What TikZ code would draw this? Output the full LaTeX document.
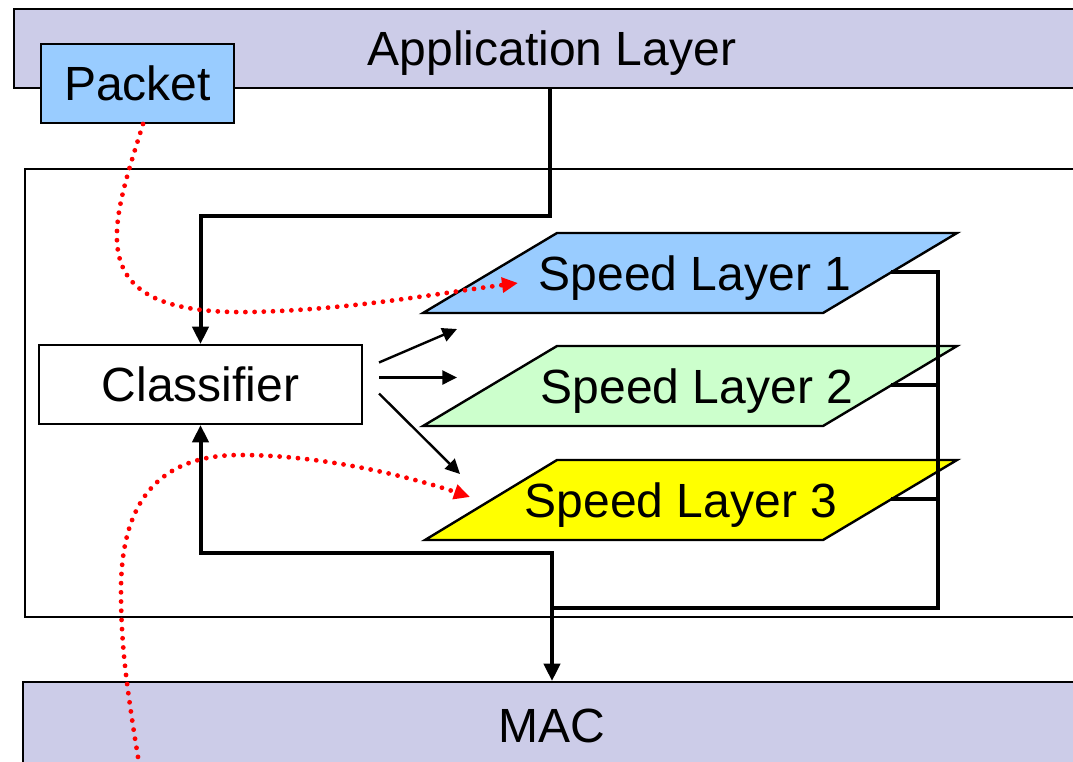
\documentclass[tikz,border=0pt]{standalone}
\usepackage{fontspec}
\setmainfont{Liberation Sans}
\usetikzlibrary{arrows.meta}
\definecolor{layerfill}{RGB}{204,204,232}
\definecolor{packetblue}{RGB}{153,204,255}
\definecolor{speedgreen}{RGB}{204,255,204}
\definecolor{speedyellow}{RGB}{255,255,0}
\definecolor{pathred}{RGB}{255,0,0}

\begin{document}
\begin{tikzpicture}[x=0.75pt,y=-0.75pt,
  font=\fontsize{36}{40}\selectfont,
  box/.style={draw=black, line width=1.5pt, rectangle, inner sep=0pt, text depth=0pt},
  layerbox/.style={box, fill=layerfill},
  speedshape/.style={draw=black, line width=1.8pt, line join=miter},
  speedtext/.style={inner sep=0pt, text depth=0pt},
  wire/.style={line width=3pt},
  bus/.style={line width=2.4pt},
  bigtip/.style={-{Triangle[length=13pt,width=12pt]}},
  fan/.style={line width=1.8pt, -{Triangle[length=11pt,width=10.5pt]}},
  trace/.style={pathred, line width=3.6pt, line cap=round,
    dash pattern=on 0pt off 6.9pt, -{Triangle[length=12pt,width=11pt]}}
]
\useasboundingbox (0,0) rectangle (1073,761);
\clip (0,0) rectangle (1073,761);

% protocol stack layers
\node[layerbox, minimum width=807pt, minimum height=59.25pt] (app) at (552,48.5) {Application Layer};
\node[box, fill=packetblue, minimum width=144.75pt, minimum height=59.25pt] (packet) at (137.5,83.5) {Packet};

% enclosing module
\draw[line width=1.5pt] (25,169) rectangle (1090,617);

% speed layers
\draw[speedshape, fill=packetblue]  (557,233) -- (957,233) -- (823,313) -- (423,313) -- cycle;
\draw[speedshape, fill=speedgreen]  (557,346) -- (957,346) -- (823,426) -- (423,426) -- cycle;
\draw[speedshape, fill=speedyellow] (557,460) -- (957,460) -- (823,540) -- (425,540) -- cycle;
\node[speedtext] (sl1) at (695,273) {Speed Layer 1};
\node[speedtext] (sl2) at (697,386) {Speed Layer 2};
\node[speedtext] (sl3) at (681,500) {Speed Layer 3};

% outputs of the speed layers
\coordinate (o1) at (891,272);
\coordinate (o2) at (891,385);
\coordinate (o3) at (891,499);
\coordinate (jn) at (552,608);
\coordinate (ret) at (552,553);
\coordinate (drop) at (550,216);
\draw[bus] (o1) -- (938,272) -- (938,608) -- (jn);
\draw[bus] (o2) -- (938,385);
\draw[bus] (o3) -- (938,499);

% classifier
\node[box, fill=white, minimum width=242.25pt, minimum height=59.25pt] (classifier) at (200.5,384.5) {Classifier};

\node[layerbox, minimum width=792.75pt, minimum height=66pt] (mac) at (551.5,726) {MAC};

% main connectors
\draw[wire, bigtip] (app.south -| drop) -- (drop) -| (classifier.north);
\draw[wire, bigtip] (jn) -- (ret) -| (classifier.south);
\draw[wire, bigtip] (jn) -- (mac.north -| jn);

% classifier fan-out
\coordinate (t1) at (457,329);
\coordinate (t2) at (457,377.5);
\coordinate (t3) at (460,474);
\draw[fan] ([shift={(16,-22)}]classifier.east) -- (t1);
\draw[fan] ([shift={(16,-7)}]classifier.east) -- (t2);
\draw[fan] ([shift={(16,9)}]classifier.east) -- (t3);

% packet traces
\coordinate (r1) at (518,283);
\coordinate (r2) at (470,497);
\coordinate (r2s) at (141,775);
\draw[trace] ([shift={(5.5,0)}]packet.south) .. controls (112,225) and (75,315) .. (250,312)
  .. controls (350,310) and (440,293) .. (r1);
\draw[trace] (r2s) .. controls (125,680) and (121,640) .. (121,590)
  .. controls (121,480) and (180,455) .. (240,455)
  .. controls (330,455) and (420,480) .. (r2);
\end{tikzpicture}
\end{document}
